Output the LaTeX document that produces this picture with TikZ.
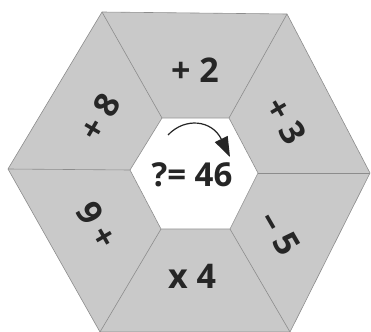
\documentclass[tikz,border=0pt]{standalone}
\usepackage{fontspec}
\setmainfont{Open Sans}
\usetikzlibrary{arrows.meta}
\tikzset{
  case/.style={fill=black!21, draw=black!45, line width=0.6pt, line join=round},
  separation/.style={draw=black!45, line width=0.6pt},
  operation/.style={font=\fontsize{34}{34}\selectfont\bfseries, text=black!85, inner sep=0pt},
}
\begin{document}
\begin{tikzpicture}[x=1pt, y=-1pt]
            \useasboundingbox (0,0) rectangle (371,331);

            % Sommets de l'hexagone extérieur
            \coordinate (A1) at (102,12);
            \coordinate (A2) at (287,14);
            \coordinate (A3) at (370,173);
            \coordinate (A4) at (290,332);
            \coordinate (A5) at (100,332);
            \coordinate (A6) at (8,169);

            % Sommets de l'hexagone central
            \coordinate (B1) at (162,118);
            \coordinate (B2) at (229,118);
            \coordinate (B3) at (258,173);
            \coordinate (B4) at (230,229);
            \coordinate (B5) at (161,229);
            \coordinate (B6) at (130,170);

            % Hexagone extérieur (six cases grises)
            \filldraw[case] (A1) -- (A2) -- (A3) -- (A4) -- (A5) -- (A6) -- cycle;

            % Hexagone central (blanc)
            \filldraw[case, fill=white] (B1) -- (B2) -- (B3) -- (B4) -- (B5) -- (B6) -- cycle;

            % Séparations entre les cases
            \foreach \i in {1,...,6}
                \draw[separation] (A\i) -- (B\i);

            % Opérations (dans le sens horaire)
            \node[operation] (plus2) at (195,70) {+ 2};
            \node[operation, rotate=-60] (plus3) at (286,121) {+ 3};
            \node[operation, rotate=-60] (moins5) at (280,233) {– 5};
            \node[operation] (fois4) at (192,276) {x 4};
            \node[operation, rotate=120] (plus6) at (97,225) {+ 6};
            \node[operation, rotate=60] (plus8) at (100,117) {+ 8};

            % Question centrale
            \node[operation, font=\fontsize{33}{33}\selectfont\bfseries] (question) at (192,175) {?= 46};

            % Flèche (sens horaire)
            \coordinate (depart) at (168,135);
            \coordinate (arrivee) at (230,157);
            \draw[black!85, line width=1.2pt, -{Triangle[length=20pt, width=14pt]}]
                (depart) .. controls (185,117) and (212,120) .. (arrivee);

        \end{tikzpicture}
\end{document}
